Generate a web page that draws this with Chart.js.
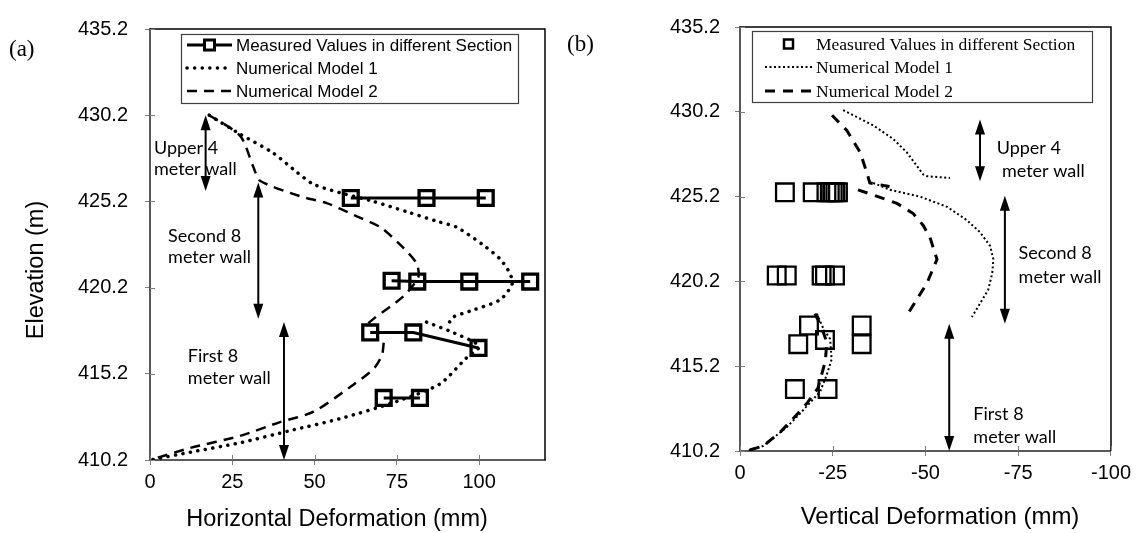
<!DOCTYPE html>
<html>
<head>
<meta charset="utf-8">
<script src="https://cdn.jsdelivr.net/npm/chart.js@4.4.0/dist/chart.umd.min.js"></script>
<style>
  html, body { margin: 0; padding: 0; background: #fff; }
  #wrap { position: relative; width: 1136px; height: 533px; overflow: hidden; }
  canvas { position: absolute; top: 0; }
  #chartA { left: 0; }
  #chartB { left: 560px; }
</style>
</head>
<body>
<div id="wrap">
  <canvas id="chartA" width="560" height="533"></canvas>
  <canvas id="chartB" width="576" height="533"></canvas>
</div>
<script>
// tick labels
const elevTicks = [410.2, 415.2, 420.2, 425.2, 430.2, 435.2];
const horizTicks = [0, 25, 50, 75, 100];
const vertTicks = [0, -25, -50, -75, -100];

// (a) horizontal deformation (mm) vs elevation (m); null = break between wall sections
const aMeasX = [61, 84, 102, null, 73.4, 81.2, 97, 115.5, null, 66.9, 80, 99.8, null, 71, 82];
const aMeasY = [425.4, 425.4, 425.4, null, 420.6, 420.55, 420.55, 420.55, null, 417.6, 417.6, 416.7, null, 413.8, 413.8];

const aModel1X = [18, 27.4, 37.5, 44.6, 49.6, 57.8, 67.9, 78, 88, 93.2, 101, 106.4, 109.4, 110, 106.4, 98.2, 92.2, 91,
  null, 84, 92, 100, 96, 88, 75, 57.8, 42.5, 27.4, 12.2, 0];
const aModel1Y = [430.2, 429.1, 428.0, 426.9, 426.2, 425.7, 425.2, 424.6, 424.0, 423.7, 422.7, 421.85, 421.0, 420.4, 419.5, 418.9, 418.5, 418.2,
  null, 418.2, 417.6, 416.8, 416.1, 414.6, 413.6, 412.6, 411.9, 411.2, 410.65, 410.2];

const aModel2X = [18, 27.4, 31.4, 33.4, 45.6, 53.7, 62, 70, 77, 81, 81.5, 77, 68, 65.5,
  null, 71, 70.5, 68, 62, 49.7, 39.5, 27.4, 12.2, 0];
const aModel2Y = [430.2, 429.0, 427.2, 426.4, 425.5, 425.1, 424.4, 423.7, 422.5, 421.6, 420.8, 419.7, 418.4, 418.0,
  null, 417.0, 416.3, 415.5, 414.6, 413.0, 412.4, 411.6, 410.9, 410.2];

// (b) vertical deformation (mm) vs elevation (m)
const bMeasX = [-12.1, -19.6, -23.3, -24.2, -25.0, -25.7, -26.4, -9.9, -12.6, -22.0, -22.9, -25.6,
  -18.6, -15.7, -22.9, -32.8, -32.8, -14.8, -23.6];
const bMeasY = [425.45, 425.45, 425.45, 425.45, 425.45, 425.45, 425.45, 420.55, 420.55, 420.55, 420.55, 420.55,
  417.6, 416.5, 416.75, 417.6, 416.5, 413.85, 413.85];

const bModel1X = [-27.8, -35.9, -41.3, -45, -49.4, -50.4, -56.6,
  null, -35.9, -40.5, -48.5, -55.8, -61.2, -64.7, -67.4, -68.3, -68, -66.9, -62.5,
  null, -20.7, -22.5, -24.3, -24.7, -23.4, -21.6, -17, -12.6, -6.3, -1.8];
const bModel1Y = [430.3, 429.4, 428.6, 427.8, 426.5, 426.4, 426.3,
  null, 426.0, 425.6, 425.2, 424.6, 423.8, 423.1, 422.3, 421.5, 420.7, 419.7, 418.1,
  null, 418.3, 417.4, 416.8, 415.6, 414.7, 413.7, 412.6, 411.6, 410.5, 410.2];

const bModel2X = [-24.8, -28.8, -32.4, -34.2, -35, -40.3,
  null, -31.8, -35.9, -42.3, -46.7, -49.4, -51.2, -53.1, -50.4, -45,
  null, -20.2, -22, -23.4, -23, -21, -18, -14.3, -10.8, -6.3, -1.8];
const bModel2Y = [430.0, 429.1, 427.8, 426.6, 426.0, 425.8,
  null, 425.6, 425.3, 424.8, 424.2, 423.5, 422.8, 421.5, 420.1, 418.2,
  null, 418.3, 417.5, 416.6, 415.5, 413.9, 413.0, 412.1, 411.3, 410.5, 410.2];

const pts = (xs, ys) => xs.map((x, i) => ({ x: x, y: ys[i] }));

Chart.defaults.font.family = "'Liberation Sans', Arial, sans-serif";
Chart.defaults.color = '#000';

function arrowHead(ctx, x, y, dir) {
  ctx.beginPath();
  ctx.moveTo(x, y);
  ctx.lineTo(x - 5, y + dir * 15);
  ctx.lineTo(x + 5, y + dir * 15);
  ctx.closePath();
  ctx.fill();
}

// draws frame, inner tick marks, legend box, titles, section arrows and labels
function extras(cfg) {
  return {
    id: 'extras',
    afterDraw(chart) {
      const ctx = chart.ctx, xs = chart.scales.x, ys = chart.scales.y, a = chart.chartArea;
      ctx.save();
      // top / right frame
      ctx.strokeStyle = '#000';
      ctx.lineWidth = 1.5;
      ctx.beginPath();
      ctx.moveTo(a.left, a.top); ctx.lineTo(a.right, a.top); ctx.lineTo(a.right, a.bottom);
      ctx.stroke();
      // inner half of cross tick marks
      ctx.strokeStyle = '#7f7f7f';
      ctx.lineWidth = 1;
      ys.ticks.forEach(t => {
        const y = Math.round(ys.getPixelForValue(t.value)) + 0.5;
        ctx.beginPath(); ctx.moveTo(a.left, y); ctx.lineTo(a.left + 5, y); ctx.stroke();
      });
      xs.ticks.forEach(t => {
        const x = Math.round(xs.getPixelForValue(t.value)) + 0.5;
        ctx.beginPath(); ctx.moveTo(x, a.bottom); ctx.lineTo(x, a.bottom - 5); ctx.stroke();
      });

      // section arrows (data coordinates)
      ctx.strokeStyle = '#000';
      ctx.fillStyle = '#000';
      ctx.lineWidth = 2;
      cfg.arrows.forEach(ar => {
        const x = xs.getPixelForValue(ar.x);
        const y1 = ys.getPixelForValue(ar.y1), y2 = ys.getPixelForValue(ar.y2);
        ctx.beginPath(); ctx.moveTo(x, y1 + 8); ctx.lineTo(x, y2 - 8); ctx.stroke();
        arrowHead(ctx, x, y1, 1);
        arrowHead(ctx, x, y2, -1);
      });
      // section labels
      ctx.font = cfg.noteFont;
      ctx.textAlign = 'left';
      ctx.textBaseline = 'middle';
      cfg.notes.forEach(n => {
        ctx.fillText(n.text, xs.getPixelForValue(n.x), ys.getPixelForValue(n.y));
      });

      // legend
      const L = cfg.legend;
      ctx.fillStyle = '#fff';
      ctx.fillRect(L.x, L.y, L.w, L.h);
      ctx.strokeStyle = '#404040';
      ctx.lineWidth = 1.2;
      ctx.strokeRect(L.x + 0.5, L.y + 0.5, L.w, L.h);
      ctx.font = L.font;
      ctx.fillStyle = '#000';
      chart.data.datasets.forEach((ds, i) => {
        const ry = L.rows[i];
        ctx.save();
        if (ds.showLine !== false) {
          ctx.strokeStyle = ds.borderColor;
          ctx.lineWidth = ds.borderWidth;
          ctx.lineCap = ds.borderCapStyle || 'butt';
          ctx.setLineDash(ds.borderDash || []);
          ctx.beginPath(); ctx.moveTo(L.sx1, ry); ctx.lineTo(L.sx2, ry); ctx.stroke();
        }
        if (ds.pointRadius > 0) {
          ctx.setLineDash([]);
          ctx.strokeStyle = '#000';
          ctx.lineWidth = L.markBorder;
          const s = L.markSize;
          const cx = (L.sx1 + L.sx2) / 2;
          ctx.fillStyle = '#fff';
          ctx.fillRect(cx - s / 2, ry - s / 2, s, s);
          ctx.strokeRect(cx - s / 2, ry - s / 2, s, s);
        }
        ctx.restore();
        ctx.fillText(ds.label, L.tx, ry + 1);
      });

      // axis titles and panel tag
      ctx.fillStyle = '#000';
      cfg.texts.forEach(t => {
        ctx.save();
        ctx.font = t.font;
        ctx.textAlign = t.align || 'center';
        ctx.textBaseline = 'middle';
        ctx.translate(t.x, t.y);
        if (t.rot) ctx.rotate(t.rot);
        ctx.fillText(t.text, 0, 0);
        ctx.restore();
      });
      ctx.restore();
    }
  };
}

function axes(xmin, xmax, xTickVals, reverse, yWidth, xHeight, yPad) {
  return {
    x: {
      type: 'linear', min: xmin, max: xmax, reverse: reverse,
      afterBuildTicks: s => { s.ticks = xTickVals.map(v => ({ value: v })); },
      ticks: { callback: v => String(v), font: { size: 20 }, color: '#000', padding: 5, maxRotation: 0, autoSkip: false },
      grid: { drawOnChartArea: false, tickLength: 5, color: '#7f7f7f' },
      border: { color: '#595959', width: 2 },
      afterFit: s => { s.height = xHeight; }
    },
    y: {
      type: 'linear', min: 410.2, max: 435.2,
      afterBuildTicks: s => { s.ticks = elevTicks.map(v => ({ value: v })); },
      ticks: { callback: v => v.toFixed(1), font: { size: 20 }, color: '#000', padding: yPad, autoSkip: false },
      grid: { drawOnChartArea: false, tickLength: 5, color: '#7f7f7f' },
      border: { color: '#595959', width: 2 },
      afterFit: s => { s.width = yWidth; }
    }
  };
}

const baseOpts = {
  responsive: false,
  animation: false,
  devicePixelRatio: 1,
  plugins: { legend: { display: false }, tooltip: { enabled: false } }
};

new Chart(document.getElementById('chartA'), {
  type: 'scatter',
  data: {
    datasets: [
      {
        label: 'Measured Values in different Section',
        data: pts(aMeasX, aMeasY),
        showLine: true, borderColor: '#000', borderWidth: 3,
        pointStyle: 'rect', pointRadius: 10.5, pointBorderWidth: 3.3,
        pointBorderColor: '#000', pointBackgroundColor: 'rgba(255,255,255,0)'
      },
      {
        label: 'Numerical Model 1',
        data: pts(aModel1X, aModel1Y),
        showLine: true, borderColor: '#000', borderWidth: 3.5,
        borderDash: [0.1, 7.5], borderCapStyle: 'round', tension: 0.25, pointRadius: 0
      },
      {
        label: 'Numerical Model 2',
        data: pts(aModel2X, aModel2Y),
        showLine: true, borderColor: '#000', borderWidth: 2.5,
        borderDash: [10, 7], tension: 0.25, pointRadius: 0
      }
    ]
  },
  options: Object.assign({}, baseOpts, {
    layout: { padding: { top: 20, right: 15, left: 0, bottom: 0 } },
    scales: axes(0, 120, horizTicks, false, 150, 73, 17)
  }),
  plugins: [extras({
    legend: { x: 181, y: 34, w: 337, h: 69, rows: [45, 68, 91], sx1: 187, sx2: 232, tx: 236,
      font: "17px 'Liberation Sans', Arial, sans-serif", markSize: 10, markBorder: 3 },
    arrows: [
      { x: 16.9, y1: 430.2, y2: 425.8 },
      { x: 32.9, y1: 426.3, y2: 418.4 },
      { x: 40.7, y1: 418.2, y2: 410.2 }
    ],
    noteFont: "18px Lato, 'Open Sans', sans-serif",
    notes: [
      { text: 'Upper 4', x: 1.2, y: 428.29 },
      { text: 'meter wall', x: 1.2, y: 427.08 },
      { text: 'Second 8', x: 5.5, y: 423.17 },
      { text: 'meter wall', x: 5.5, y: 421.96 },
      { text: 'First 8', x: 11.5, y: 416.22 },
      { text: 'meter wall', x: 11.5, y: 414.93 }
    ],
    texts: [
      { text: '(a)', x: 9, y: 50, align: 'left', font: "23px 'Liberation Serif', 'Times New Roman', serif" },
      { text: 'Elevation (m)', x: 37, y: 270, rot: -Math.PI / 2, font: "23.5px 'Liberation Sans', Arial, sans-serif" },
      { text: 'Horizontal Deformation (mm)', x: 337, y: 520, font: "23.5px 'Liberation Sans', Arial, sans-serif" }
    ]
  })]
});

new Chart(document.getElementById('chartB'), {
  type: 'scatter',
  data: {
    datasets: [
      {
        label: 'Measured Values in different Section',
        data: pts(bMeasX, bMeasY),
        showLine: false,
        pointStyle: 'rect', pointRadius: 12.5, pointBorderWidth: 2.3,
        pointBorderColor: '#000', pointBackgroundColor: 'rgba(255,255,255,0)'
      },
      {
        label: 'Numerical Model 1',
        data: pts(bModel1X, bModel1Y),
        showLine: true, borderColor: '#000', borderWidth: 2,
        borderDash: [2, 2.5], pointRadius: 0
      },
      {
        label: 'Numerical Model 2',
        data: pts(bModel2X, bModel2Y),
        showLine: true, borderColor: '#000', borderWidth: 3,
        borderDash: [10, 8], pointRadius: 0
      }
    ]
  },
  options: Object.assign({}, baseOpts, {
    layout: { padding: { top: 20, right: 25, left: 0, bottom: 0 } },
    scales: axes(-100, 0, vertTicks, true, 180, 82, 15)
  }),
  plugins: [extras({
    legend: { x: 192, y: 31, w: 340, h: 71, rows: [44, 67, 91], sx1: 205, sx2: 252, tx: 256,
      font: "17.5px 'Liberation Serif', 'Times New Roman', serif", markSize: 9, markBorder: 2.5 },
    arrows: [
      { x: -64.7, y1: 429.75, y2: 426.1 },
      { x: -71.4, y1: 425.25, y2: 417.7 },
      { x: -56.4, y1: 417.7, y2: 410.2 }
    ],
    noteFont: "18px Lato, 'Open Sans', sans-serif",
    notes: [
      { text: 'Upper 4', x: -69.2, y: 428.05 },
      { text: 'meter wall', x: -70.6, y: 426.7 },
      { text: 'Second 8', x: -75.1, y: 421.86 },
      { text: 'meter wall', x: -75.1, y: 420.47 },
      { text: 'First 8', x: -62.9, y: 412.39 },
      { text: 'meter wall', x: -62.9, y: 411.03 }
    ],
    texts: [
      { text: '(b)', x: 7, y: 45, align: 'left', font: "23px 'Liberation Serif', 'Times New Roman', serif" },
      { text: 'Vertical Deformation (mm)', x: 380, y: 517, font: "24px 'Liberation Sans', Arial, sans-serif" }
    ]
  })]
});
</script>
</body>
</html>
